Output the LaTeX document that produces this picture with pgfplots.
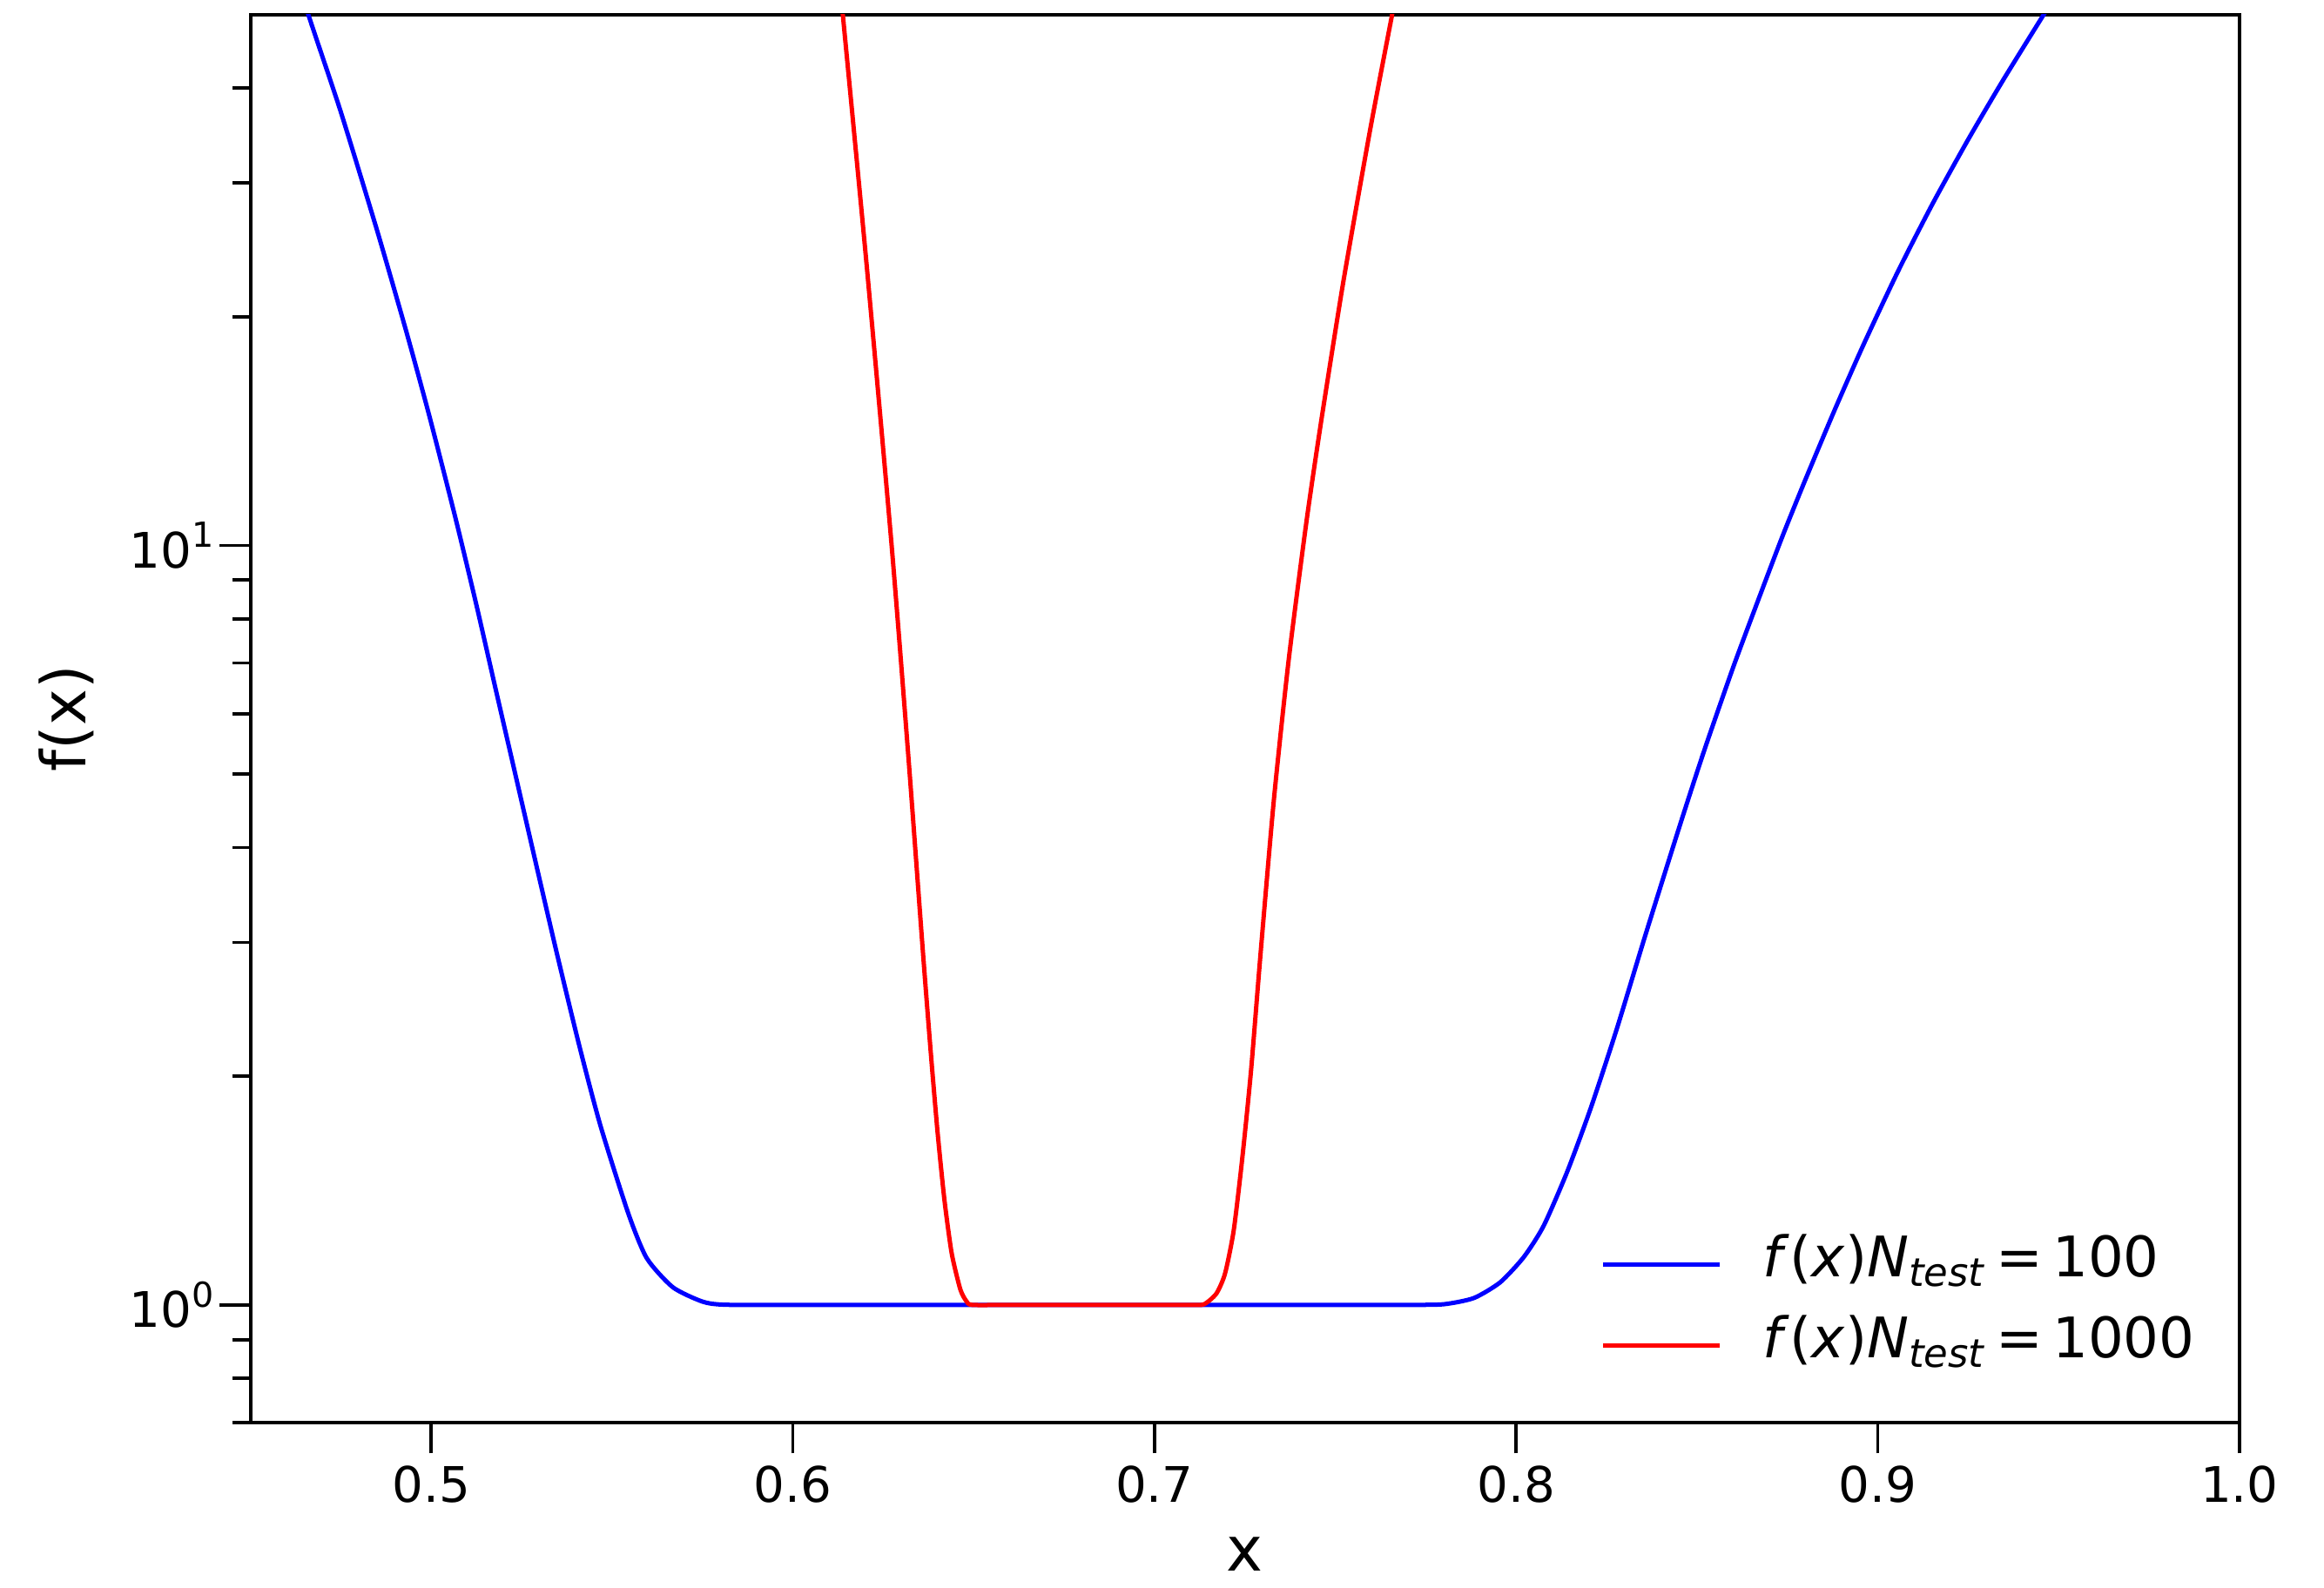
\documentclass[border=0pt]{standalone}
\usepackage{pgfplots}
\pgfplotsset{compat=1.18}
\usepackage{fontspec}
\setmainfont{DejaVu Sans}
\newcommand{\tpow}[1]{10\raisebox{0.42em}{\fontsize{9.5}{10}\selectfont #1}}
\begin{document}
\begin{tikzpicture}
\begin{axis}[
  scale only axis,
  width=548pt, height=388pt,
  ymode=log,
  xmin=0.45, xmax=1.0, ymin=0.7, ymax=50,
  xtick={0.5,0.6,0.7,0.8,0.9,1.0},
  xticklabels={0.5,0.6,0.7,0.8,0.9,1.0},
  ytick={1,10},
  yticklabels={\tpow{0},\tpow{1}},
  minor ytick={0.7,0.8,0.9,2,3,4,5,6,7,8,9,20,30,40},
  tick align=outside,
  xtick pos=bottom, ytick pos=left,
  major tick length=8.5pt, minor tick length=5pt,
  every tick/.style={black, line width=0.9pt},
  axis line style={line width=1pt},
  tick label style={font=\fontsize{13.5}{16}\selectfont},
  yticklabel style={xshift=2pt},
  /pgf/number format/assume math mode=true,
  xlabel={x}, ylabel={f(x)},
  label style={font=\fontsize{17}{20}\selectfont},
  xlabel style={inner sep=0pt, yshift=-5.8pt},
  ylabel style={inner sep=0pt, yshift=6.3pt},
  legend style={draw=none, fill=none, at={(rel axis cs:1,0)}, anchor=south east,
    xshift=-12.1pt, yshift=13.6pt, inner sep=0pt,
    font=\fontsize{15.4}{18}\selectfont, row sep=7.3pt, column sep=11.5pt,
    nodes={inner sep=0pt, text height=11pt, text depth=4pt}},
  legend cell align=left,
  legend image code/.code={\draw[#1, line width=1.2pt] (0pt,0pt) -- (32pt,0pt);},
  clip=true,
]
\addplot[blue, line width=1.2pt, smooth, tension=0.4] coordinates {
(0.4620,58) (0.4660,50) (0.4750,37.2) (0.4850,26.0) (0.4930,19.2) (0.4994,14.85)
(0.5066,10.91) (0.5124,8.38) (0.5179,6.44) (0.5234,4.96) (0.5295,3.713)
(0.5348,2.894) (0.5410,2.188) (0.5468,1.721) (0.5545,1.319) (0.5596,1.152)
(0.5668,1.055) (0.5750,1.010) (0.5812,1.0005) (0.6000,1.0) (0.6500,1.0) (0.7000,1.0)
(0.7500,1.0) (0.7700,1.0) (0.7800,1.002)
(0.7883,1.021) (0.7956,1.071) (0.8021,1.156) (0.8076,1.271) (0.8141,1.497)
(0.8206,1.815) (0.8278,2.307) (0.8358,3.076) (0.8454,4.30) (0.8520,5.37)
(0.8600,6.91) (0.8670,8.49) (0.8736,10.27) (0.8798,12.15) (0.8880,15.05)
(0.8960,18.36) (0.9056,22.96) (0.9152,28.20) (0.9249,34.17) (0.9345,40.87)
(0.9459,50) (0.9500,53.5)
};
\addlegendentry{\textit{f}(\textit{x})\textit{N}\textsubscript{\textit{test}}\,=\,100}
\addplot[red, line width=1.2pt, smooth, tension=0.4] coordinates {
(0.6125,58) (0.6138,50) (0.6205,23.1) (0.6273,10.0) (0.6320,5.22) (0.6359,2.938)
(0.6381,2.157) (0.6400,1.689) (0.6419,1.375) (0.6439,1.170) (0.6463,1.048)
(0.6480,1.011) (0.6496,1.0) (0.6600,1.0) (0.6800,1.0) (0.7000,1.0) (0.7100,1.0)
(0.7137,1.002) (0.7171,1.035) (0.7195,1.100) (0.7219,1.254) (0.7243,1.566)
(0.7267,2.039) (0.7293,2.894) (0.7330,4.624) (0.7371,7.07) (0.7420,10.74)
(0.7461,14.59) (0.7522,22.23) (0.7596,35.22) (0.7657,50) (0.7670,54)
};
\addlegendentry{\textit{f}(\textit{x})\textit{N}\textsubscript{\textit{test}}\,=\,1000}
\end{axis}
\path ([shift={(-69pt,-45.4pt)}]current axis.south west) rectangle ([shift={(23.3pt,4pt)}]current axis.north east);
\end{tikzpicture}
\end{document}
